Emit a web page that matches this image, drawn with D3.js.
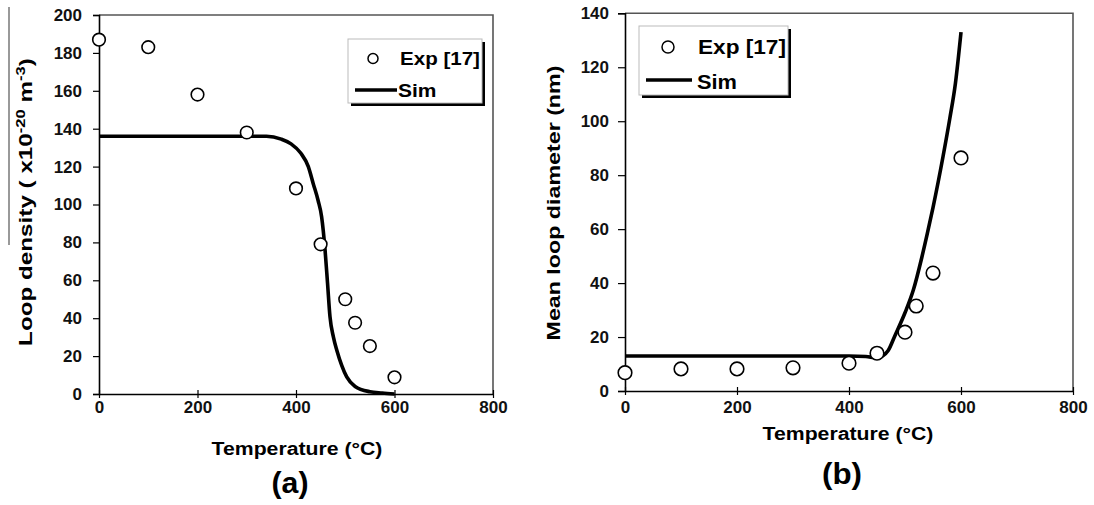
<!DOCTYPE html>
<html>
<head>
<meta charset="utf-8">
<script src="https://cdn.jsdelivr.net/npm/d3@7"></script>
<style>
  html, body { margin: 0; padding: 0; background: #fff; }
  svg { display: block; font-family: "Liberation Sans", Arial, sans-serif; font-weight: bold; }
</style>
</head>
<body>
<svg id="chart" width="1094" height="505"></svg>
<script>
// ---------- data ----------
const xTicks = [0, 200, 400, 600, 800];
const yTicksA = [0, 20, 40, 60, 80, 100, 120, 140, 160, 180, 200];
const yTicksB = [0, 20, 40, 60, 80, 100, 120, 140];

// Panel (a): loop density
const expTempA = [0, 100, 200, 300, 400, 450, 500, 520, 550, 600];
const expDensA = [187, 183, 158, 138, 108.5, 79, 50, 37.6, 25.3, 8.8];
const simTempA = [0, 340, 370, 390, 410, 425, 435, 445, 452, 459, 464, 469, 476, 483, 493, 503, 520, 550, 575, 600];
const simDensA = [136, 136, 134.5, 132, 127, 120, 111, 102, 93.6, 76, 58.6, 40.8, 30, 23, 15, 9, 4, 1.2, 0.5, 0];

// Panel (b): mean loop diameter
const expTempB = [0, 100, 200, 300, 400, 450, 500, 520, 550, 600];
const expDiamB = [6.8, 8.2, 8.2, 8.6, 10.3, 14, 21.8, 31.5, 43.7, 86.4];
const simTempB = [0, 100, 200, 300, 400, 430, 450, 460, 470, 482, 500, 515, 530, 540, 550, 568, 580, 590, 600];
const simDiamB = [13, 13, 13, 13, 13, 12.8, 12.3, 13, 15, 20.5, 29, 37.5, 49.5, 58.5, 68, 87, 101, 114, 133];

// ---------- drawing ----------
const svg = d3.select("#chart");

// place text at (x,y), optionally rotated, stretched along its length to a target width
function stretchText(sel, x, y, rot, target) {
  const len = sel.node().getComputedTextLength();
  const s = target ? target / len : 1;
  sel.attr("x", 0).attr("y", 0)
     .attr("transform", `translate(${x},${y}) rotate(${rot}) scale(${s},1)`);
}

function panel(cfg) {
  const x = d3.scaleLinear().domain([0, 800]).range([cfg.x0, cfg.x1]);
  const y = d3.scaleLinear().domain([0, cfg.ymax]).range([cfg.y0, cfg.y1]);
  const g = svg.append("g");

  // frame (top & right)
  g.append("path")
    .attr("d", `M${cfg.x0},${cfg.y1}H${cfg.x1}V${cfg.y0}`)
    .attr("fill", "none").attr("stroke", "#555").attr("stroke-width", 1.6);

  // x axis
  const xa = g.append("g").attr("transform", `translate(0,${cfg.y0})`)
    .call(d3.axisBottom(x).tickValues(xTicks).tickSize(0).tickPadding(0).tickFormat(d3.format("d")));
  xa.select(".domain").attr("stroke", "#000").attr("stroke-width", 1.6);
  xa.selectAll(".tick line").attr("y1", -4).attr("y2", 4).attr("stroke", "#000").attr("stroke-width", 1.2);
  xa.selectAll(".tick text").attr("y", cfg.xlabDy).attr("dy", 0)
    .attr("font-size", 17).attr("font-weight", "bold").attr("fill", "#111")
    .attr("font-family", "Liberation Sans, Arial, sans-serif");

  // y axis
  const ya = g.append("g").attr("transform", `translate(${cfg.x0},0)`)
    .call(d3.axisLeft(y).tickValues(cfg.yTicks).tickSize(cfg.ytSize).tickPadding(cfg.ytPad).tickFormat(d3.format("d")));
  ya.select(".domain").attr("stroke", "#000").attr("stroke-width", 1.6);
  ya.selectAll(".tick line").attr("stroke", "#000").attr("stroke-width", 1.2);
  ya.selectAll(".tick text").attr("font-size", 17).attr("font-weight", "bold").attr("fill", "#111")
    .attr("font-family", "Liberation Sans, Arial, sans-serif");

  // sim line
  const line = d3.line().x(d => x(d[0])).y(d => y(d[1])).curve(d3.curveMonotoneX);
  g.append("path")
    .datum(cfg.simT.map((t, i) => [t, cfg.simV[i]]))
    .attr("d", line).attr("fill", "none").attr("stroke", "#000")
    .attr("stroke-width", 3.6).attr("stroke-linejoin", "round");

  // exp points
  g.selectAll("circle.exp")
    .data(cfg.expT.map((t, i) => [t, cfg.expV[i]]))
    .join("circle").attr("class", "exp")
    .attr("cx", d => x(d[0])).attr("cy", d => y(d[1])).attr("r", cfg.r)
    .attr("fill", "#fff").attr("stroke", "#000").attr("stroke-width", 1.6);

  // x title
  const xt = g.append("text").attr("text-anchor", "middle").attr("font-size", 19).text("Temperature (°C)");
  stretchText(xt, cfg.xtX, cfg.xtY, 0, 171);
  // panel label
  const pl = g.append("text").attr("text-anchor", "middle").attr("font-size", 30).text(cfg.panelLabel);
  stretchText(pl, cfg.plX, cfg.plY, 0, cfg.plW);

  // legend
  const L = cfg.leg;
  g.append("rect").attr("x", L.x + 3).attr("y", L.y + 3).attr("width", L.w).attr("height", L.h).attr("fill", "#000");
  g.append("rect").attr("x", L.x).attr("y", L.y).attr("width", L.w).attr("height", L.h)
    .attr("fill", "#fff").attr("stroke", "#bbb").attr("stroke-width", 1);
  g.append("circle").attr("cx", L.cx).attr("cy", L.cy).attr("r", L.r)
    .attr("fill", "#fff").attr("stroke", "#000").attr("stroke-width", 1.5);
  const t1 = g.append("text").attr("font-size", L.fs).text("Exp [17]");
  stretchText(t1, L.tx, L.ty1, 0, L.w1);
  g.append("line").attr("x1", L.lx1).attr("x2", L.lx2).attr("y1", L.ly).attr("y2", L.ly)
    .attr("stroke", "#000").attr("stroke-width", 3.4);
  const t2 = g.append("text").attr("font-size", L.fs).text("Sim");
  stretchText(t2, L.tx2, L.ty2, 0, L.w2);

  // y title
  const yt = g.append("text").attr("text-anchor", "middle").attr("font-size", 19);
  cfg.ytParts.forEach(p => {
    const ts = yt.append("tspan").text(p.t);
    if (p.sup) ts.attr("font-size", 13).attr("baseline-shift", "super");
  });
  stretchText(yt, cfg.ytX, cfg.ytY, -90, cfg.ytLen);
}

panel({
  x0: 99, x1: 493, y0: 394, y1: 15, ymax: 200, yTicks: yTicksA, ytSize: 6, ytPad: 11,
  simT: simTempA, simV: simDensA, expT: expTempA, expV: expDensA, r: 6.3,
  xlabDy: 19, xtX: 297, xtY: 455, plX: 290, plY: 493, plW: 37, panelLabel: "(a)",
  leg: { x: 348, y: 39, w: 134, h: 64, cx: 373, cy: 58.5, r: 5, tx: 400, ty1: 65, tx2: 398, ty2: 97,
         lx1: 355, lx2: 397, ly: 90, fs: 19, w1: 80, w2: 38.5 },
  ytX: 32, ytY: 202, ytLen: 288,
  ytParts: [{ t: "Loop density ( x10" }, { t: "-20", sup: true }, { t: " m" }, { t: "-3", sup: true }, { t: ")" }]
});

panel({
  x0: 625, x1: 1073, y0: 391, y1: 13.3, ymax: 140, yTicks: yTicksB, ytSize: 7, ytPad: 9,
  simT: simTempB, simV: simDiamB, expT: expTempB, expV: expDiamB, r: 6.8,
  xlabDy: 22, xtX: 848, xtY: 440, plX: 842, plY: 484, plW: 40, panelLabel: "(b)",
  leg: { x: 639, y: 26, w: 149, h: 69, cx: 668, cy: 47, r: 6, tx: 698, ty1: 53.5, tx2: 697, ty2: 88.5,
         lx1: 646, lx2: 692, ly: 80, fs: 20, w1: 88, w2: 40 },
  ytX: 560, ytY: 203, ytLen: 275,
  ytParts: [{ t: "Mean loop diameter (nm)" }]
});

// stray grey rule at the far left of the original figure
svg.append("line").attr("x1", 9).attr("x2", 9).attr("y1", 7).attr("y2", 245)
  .attr("stroke", "#777").attr("stroke-width", 1.5);
</script>
</body>
</html>
